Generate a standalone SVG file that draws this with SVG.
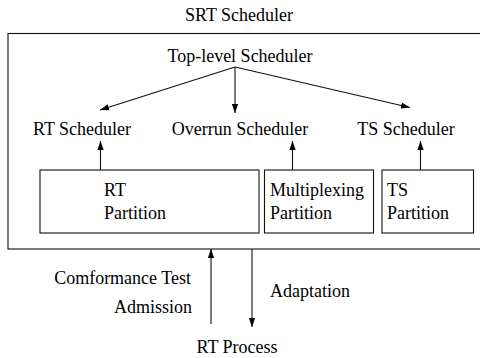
<svg xmlns="http://www.w3.org/2000/svg" width="480" height="358" viewBox="0 0 480 358">
<style>
.t{font-family:'Liberation Serif','Times New Roman',serif;font-size:18px;fill:#000}
.c{text-anchor:middle}
.r{text-anchor:end}
.box{fill:none;stroke:#111;stroke-width:1.1}
.ln{fill:none;stroke:#111;stroke-width:1.1}
</style>
<defs>
<marker id="ah" viewBox="0 0 10 10" refX="10" refY="5" markerWidth="9" markerHeight="9" markerUnits="userSpaceOnUse" orient="auto">
<path d="M0,1.5 L10,5 L0,8.5 z" fill="#000"/>
</marker>
</defs>
<rect x="0" y="0" width="480" height="358" fill="#fff"/>
<g id="srt">
<text class="t c" x="239" y="20.5">SRT Scheduler</text>
<rect class="box" x="8" y="33.5" width="480" height="215.5"/>
</g>
<g id="top"><text class="t c" x="240" y="61.5">Top-level Scheduler</text></g>
<g id="rtsched"><text class="t c" x="82" y="135">RT Scheduler</text></g>
<g id="ovsched"><text class="t c" x="240" y="135">Overrun Scheduler</text></g>
<g id="tssched"><text class="t c" x="406" y="135">TS Scheduler</text></g>
<g id="rtpart">
<rect class="box" x="40" y="170" width="219" height="63"/>
<text class="t" x="104" y="195.5">RT</text>
<text class="t" x="104" y="219">Partition</text>
</g>
<g id="mxpart">
<rect class="box" x="264.5" y="170" width="109" height="63"/>
<text class="t" x="270" y="195.5">Multiplexing</text>
<text class="t" x="270" y="219">Partition</text>
</g>
<g id="tspart">
<rect class="box" x="382" y="170" width="91.5" height="63"/>
<text class="t" x="387" y="195.5">TS</text>
<text class="t" x="387" y="219">Partition</text>
</g>
<g id="rtproc"><text class="t c" x="237" y="353">RT Process</text></g>
<g id="connectors">
<line class="ln" x1="235" y1="67" x2="100" y2="110" marker-end="url(#ah)"/>
<line class="ln" x1="235" y1="67" x2="235" y2="113" marker-end="url(#ah)"/>
<line class="ln" x1="235" y1="67" x2="410" y2="107.5" marker-end="url(#ah)"/>
<line class="ln" x1="100.5" y1="170" x2="100.5" y2="141" marker-end="url(#ah)"/>
<line class="ln" x1="292.5" y1="170" x2="292.5" y2="141" marker-end="url(#ah)"/>
<line class="ln" x1="420.5" y1="170" x2="420.5" y2="141" marker-end="url(#ah)"/>
<line class="ln" x1="211" y1="324" x2="211" y2="249" marker-end="url(#ah)"/>
<line class="ln" x1="252" y1="249" x2="252" y2="327" marker-end="url(#ah)"/>
<text class="t r" x="191" y="284">Comformance Test</text>
<text class="t r" x="192" y="313">Admission</text>
<text class="t" x="270" y="296.5">Adaptation</text>
</g>
</svg>
